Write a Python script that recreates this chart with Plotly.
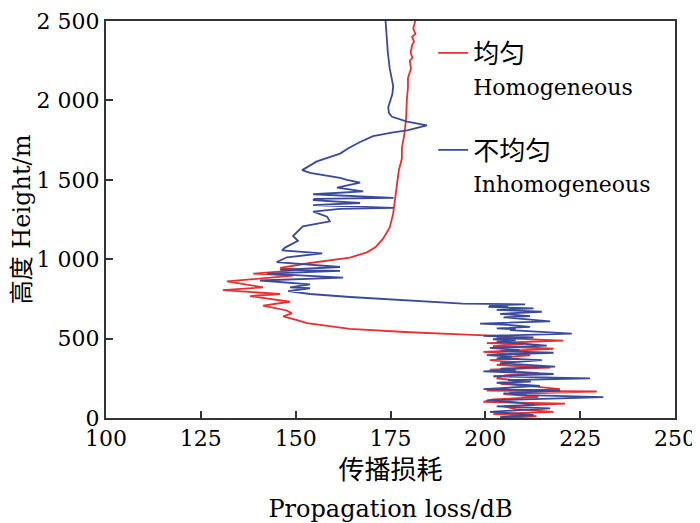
import plotly.graph_objects as go

# inhomogeneous profile (blue), top to bottom
blue_x = [173.7, 173.9, 174.3, 174.8, 175.7, 175.5, 174.4, 174.6, 175.4, 179.4,
          184.6, 179.4, 175.7, 170.4, 167.0, 164.0, 161.7, 155.6, 151.7, 153.8,
          161.7, 163.5, 167.0, 160.9, 167.8, 154.6, 175.8, 155.0, 154.6, 167.0,
          154.6, 175.8, 161.7, 154.6, 158.3, 159.0, 151.9, 149.3, 150.6, 147.2,
          146.4, 157.0, 147.7, 145.0, 161.7, 145.9, 161.7, 142.4, 162.5, 140.6,
          153.8, 148.5, 153.8, 148.0, 153.8, 164.3, 180.0, 194.0,
          210.5, 201.0, 206.0, 200.8, 212.7, 203.0, 208.0, 214.9, 203.9, 209.0,
          211.8, 204.8, 209.0, 217.1, 198.6, 206.0, 211.8, 203.0, 208.0, 206.5,
          222.8, 199.5, 212.7, 202.0, 208.0, 203.0, 216.2, 201.2, 209.0, 204.0,
          218.0, 200.4, 207.0, 203.0, 214.9, 203.9, 210.0, 218.4, 204.0, 208.0,
          199.5, 218.0, 202.1, 227.6, 206.0, 212.0, 203.0, 209.0, 214.4, 199.5,
          219.7, 204.8, 211.0, 231.1, 200.4, 208.0, 213.0, 203.0, 217.1, 201.2,
          207.0, 212.7, 203.9, 206.0]
blue_y = [2500, 2400, 2300, 2200, 2092, 2040, 1957, 1920, 1897, 1866,
          1842, 1811, 1799, 1775, 1738, 1700, 1665, 1616, 1561, 1543,
          1512, 1500, 1482, 1451, 1427, 1409, 1386, 1380, 1372, 1354,
          1341, 1323, 1317, 1299, 1268, 1238, 1207, 1146, 1116, 1073,
          1055, 1037, 1012, 982, 951, 933, 927, 909, 884, 866,
          842, 823, 817, 799, 781, 762, 740, 720,
          716, 709, 704, 700, 690, 681, 676, 669, 656, 650,
          642, 634, 624, 609, 594, 586, 574, 564, 559, 553,
          531, 517, 507, 496, 489, 481, 456, 441, 429, 420,
          411, 396, 386, 376, 365, 345, 336, 324, 311, 302,
          294, 277, 263, 249, 238, 230, 222, 213, 202, 182,
          172, 155, 144, 131, 111, 99, 83, 73, 60, 39,
          30, 19, 6, 0]

# homogeneous profile (red), top to bottom
red_x = [181.5, 181.0, 181.6, 180.7, 181.2, 180.7, 180.3, 180.8, 180.1, 180.4,
         179.6, 179.6, 179.3, 179.1, 178.6, 178.0, 178.0, 177.2, 176.7, 176.2,
         175.7, 174.8, 173.0, 171.0, 168.8, 164.3, 159.0, 153.8, 145.9, 151.2,
         138.8, 149.3, 131.9, 137.2, 141.4, 130.8, 145.9, 138.0, 148.5, 141.4,
         147.7, 149.0, 146.7, 150.4, 153.0, 164.3, 180.0, 195.0, 200.0,
         207.0, 203.0, 220.6, 200.4, 210.0, 202.0, 218.0, 199.5, 206.0, 211.8,
         204.0, 209.0, 201.2, 208.0, 203.0, 217.1, 201.2, 214.0, 205.0, 203.0,
         210.0, 204.0, 212.0, 219.7, 200.4, 229.4, 204.8, 214.0, 202.0, 199.5,
         221.0, 205.0, 208.0, 218.0, 202.1, 213.5, 205.0]
red_y = [2500, 2450, 2420, 2400, 2370, 2348, 2300, 2270, 2250, 2200,
         2140, 2080, 2000, 1878, 1780, 1700, 1634, 1560, 1470, 1380,
         1287, 1200, 1128, 1075, 1043, 1010, 994, 976, 945, 933,
         909, 896, 860, 842, 823, 805, 781, 768, 732, 707,
         677, 659, 640, 616, 598, 561, 540, 525, 520,
         514, 505, 487, 471, 466, 453, 436, 416, 406, 395,
         382, 374, 365, 351, 334, 318, 304, 283, 269, 249,
         233, 215, 201, 182, 172, 167, 151, 131, 117, 101,
         90, 73, 56, 39, 25, 11, 0]

x_ticks = [100, 125, 150, 175, 200, 225, 250]
y_ticks = [0, 500, 1000, 1500, 2000, 2500]
y_labels = ['0', '500', '1 000', '1 500', '2 000', '2 500']

font_family = 'DejaVu Serif, Noto Sans CJK SC'


def sized(text, size):
    return f'<span style="font-size:{size}px">{text}</span>'


fig = go.Figure()
fig.add_trace(go.Scatter(x=red_x, y=red_y, mode='lines',
                         name=sized('均匀', 26) + '<br>' + sized('Homogeneous', 22),
                         legendgroup='r', line={'color': '#e8302e', 'width': 1.8}))
fig.add_trace(go.Scatter(x=blue_x, y=blue_y, mode='lines',
                         name=sized('不均匀', 26) + '<br>' + sized('Inhomogeneous', 22),
                         legendgroup='b', line={'color': '#3a4a9a', 'width': 1.8}))

axis_style = dict(showgrid=False, zeroline=False, ticks='inside', ticklen=7, tickwidth=2,
                  tickcolor='#333', showline=True, linecolor='#333', linewidth=2, mirror=True,
                  ticklabeloverflow='allow', automargin=False,
                  tickfont={'family': font_family, 'size': 22, 'color': 'black'})

fig.update_layout(width=692, height=515,
                  margin={'l': 98, 'r': 25, 't': 13, 'b': 105},
                  plot_bgcolor='white', paper_bgcolor='white',
                  font={'family': font_family, 'size': 22, 'color': 'black'},
                  xaxis=dict(axis_style, range=[100, 250], tickvals=x_ticks,
                             title={'text': sized('传播损耗', 26) + '<br>' + sized('Propagation loss/dB', 24),
                                    'standoff': 20, 'font': {'size': 29}}),
                  yaxis=dict(axis_style, range=[0, 2500], tickvals=y_ticks, ticktext=y_labels,
                             title={'text': sized('高度', 24) + ' ' + sized('Height/m', 24),
                                    'standoff': 4, 'font': {'size': 24}}),
                  legend={'x': 0.575, 'y': 0.977, 'xanchor': 'left', 'yanchor': 'top',
                          'traceorder': 'grouped', 'valign': 'top', 'tracegroupgap': 29,
                          'bgcolor': 'rgba(0,0,0,0)', 'font': {'size': 25}})

fig.write_html("out.html")
